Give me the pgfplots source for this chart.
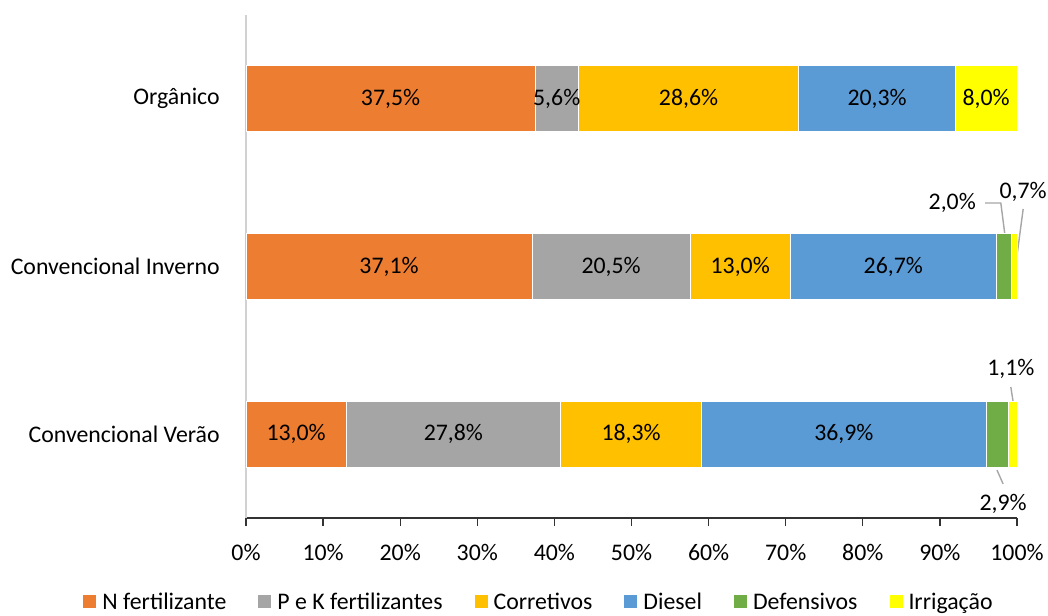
\documentclass[border=0pt]{standalone}
\usepackage{fontspec}
\setmainfont{Carlito}
\usepackage{pgfplots}
\pgfplotsset{compat=1.18}
\definecolor{cN}{HTML}{ED7D31}
\definecolor{cPK}{HTML}{A5A5A5}
\definecolor{cCor}{HTML}{FFC000}
\definecolor{cDie}{HTML}{5B9BD5}
\definecolor{cDef}{HTML}{70AD47}
\definecolor{cIrr}{HTML}{FFFF00}
\definecolor{leader}{HTML}{A6A6A6}
\pgfplotsset{
  seg/.style={fill=#1, draw=white, line width=0.4pt,
    /pgfplots/legend image code/.code={\fill[##1,draw=none] (0pt,-2.5pt) rectangle (6.5pt,4pt);}},
}
\begin{document}
\fontsize{11.9}{14}\selectfont
\begin{tikzpicture}
\path[use as bounding box] (-123pt,-48.5pt) rectangle (401pt,259pt);
\begin{axis}[
  at={(0,0)}, anchor=south west,
  scale only axis, width=385.5pt, height=251.5pt,
  xbar stacked, bar width=33pt,
  xmin=0, xmax=100, ymin=0, ymax=3,
  axis x line=bottom, axis y line=left,
  x axis line style={-, draw=black!80, line width=0.6pt},
  y axis line style={-, draw=black!18, line width=0.6pt},
  xtick={0,10,...,100},
  xticklabels={0\%,10\%,20\%,30\%,40\%,50\%,60\%,70\%,80\%,90\%,100\%},
  xtick align=outside, major tick length=4pt,
  xtick style={draw=black!80, line width=0.6pt},
  ytick={0.5,1.5,2.5},
  yticklabels={Convencional Verão,Convencional Inverno,Orgânico},
  ytick style={draw=none},
  x tick label style={yshift=-5pt},
  y tick label style={xshift=-7pt},
  clip=false,
  point meta=explicit symbolic,
  nodes near coords={\pgfplotspointmeta},
  every node near coord/.append style={anchor=center, text=black},
  legend columns=6,
  legend style={at={(0.38,-0.169)}, anchor=center, draw=none, fill=none,
    /tikz/every odd column/.append style={column sep=2pt},
    /tikz/every even column/.append style={column sep=15pt},
    nodes={inner sep=1pt}},
]
\addplot[seg=cN] coordinates {(13.0,0.5) [13,0\%] (37.1,1.5) [37,1\%] (37.5,2.5) [37,5\%]};
\addlegendentry{N fertilizante}
\addplot[seg=cPK] coordinates {(27.8,0.5) [27,8\%] (20.5,1.5) [20,5\%] (5.6,2.5) [5,6\%]};
\addlegendentry{P e K fertilizantes}
\addplot[seg=cCor] coordinates {(18.3,0.5) [18,3\%] (13.0,1.5) [13,0\%] (28.6,2.5) [28,6\%]};
\addlegendentry{Corretivos}
\addplot[seg=cDie] coordinates {(36.9,0.5) [36,9\%] (26.7,1.5) [26,7\%] (20.3,2.5) [20,3\%]};
\addlegendentry{Diesel}
\addplot[seg=cDef] coordinates {(2.9,0.5) [] (2.0,1.5) [] (0,2.5) []};
\addlegendentry{Defensivos}
\addplot[seg=cIrr] coordinates {(1.1,0.5) [] (0.7,1.5) [] (8.0,2.5) [8,0\%]};
\addlegendentry{Irrigação}
% rótulos com linhas de chamada
\draw[leader, line width=0.7pt] (axis cs:95.85,1.879) -- (axis cs:97.9,1.879) -- (axis cs:98.4,1.70);
\node at (axis cs:91.6,1.879) {2,0\%};
\draw[leader, line width=0.7pt] (axis cs:100.8,1.843) -- (axis cs:99.8,1.497);
\node at (axis cs:100.8,1.944) {0,7\%};
\draw[leader, line width=0.7pt] (axis cs:99.2,0.781) -- (axis cs:99.5,0.692);
\node at (axis cs:99.2,0.889) {1,1\%};
\draw[leader, line width=0.7pt] (axis cs:97.4,0.286) -- (axis cs:98.2,0.203);
\node at (axis cs:98.2,0.083) {2,9\%};
\end{axis}
\end{tikzpicture}
\end{document}
